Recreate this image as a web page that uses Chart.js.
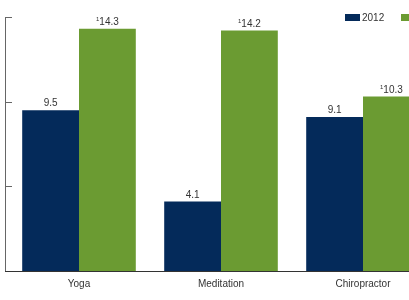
<!DOCTYPE html>
<html>
<head>
<meta charset="utf-8">
<script src="https://cdn.jsdelivr.net/npm/chart.js@4/dist/chart.umd.min.js"></script>
<style>
  html, body { margin: 0; padding: 0; background: #fff; }
  #wrap { width: 409px; height: 300px; overflow: hidden; }
</style>
</head>
<body>
<div id="wrap"><canvas id="chart" width="440" height="300"></canvas></div>
<script>
    // data
    var categories = ['Yoga', 'Meditation', 'Chiropractor'];
    var years = ['2012', '2017'];
    var values2012 = [9.5, 4.1, 9.1];
    var values2017 = [14.3, 14.2, 10.3];
    var sigFlags2017 = ['1', '1', '1'];
    var yTicks = [0, 5, 10, 15];

    var NAVY = '#042a5a';
    var GREEN = '#6b9b32';
    var FONT = '"Liberation Sans", Arial, sans-serif';

    // axes with inward tick marks, bar value labels and a top right legend
    var decorPlugin = {
        id: 'decor',
        afterDatasetsDraw: function(chart) {
            var ctx = chart.ctx;
            var y = chart.scales.y;
            var axisX = 5;
            ctx.save();

            // y axis
            ctx.strokeStyle = '#666';
            ctx.lineWidth = 1;
            ctx.beginPath();
            ctx.moveTo(axisX + 0.5, y.getPixelForValue(15));
            ctx.lineTo(axisX + 0.5, y.getPixelForValue(0));
            yTicks.forEach(function(t) {
                var py = Math.round(y.getPixelForValue(t)) + 0.5;
                ctx.moveTo(axisX, py);
                ctx.lineTo(axisX + 7, py);
            });
            ctx.stroke();

            // x axis
            ctx.strokeStyle = '#333';
            ctx.beginPath();
            var by = Math.round(y.getPixelForValue(0)) + 0.5;
            ctx.moveTo(axisX, by);
            ctx.lineTo(chart.width, by);
            ctx.stroke();

            // value labels
            ctx.fillStyle = '#333';
            ctx.textBaseline = 'alphabetic';
            chart.data.datasets.forEach(function(ds, di) {
                var meta = chart.getDatasetMeta(di);
                meta.data.forEach(function(bar, i) {
                    var txt = ds.data[i].toFixed(1);
                    var flag = ds.flags ? ds.flags[i] : '';
                    ctx.font = '10px ' + FONT;
                    var w = ctx.measureText(txt).width;
                    ctx.font = '6px ' + FONT;
                    var fw = flag ? ctx.measureText(flag).width : 0;
                    var x0 = bar.x - (w + fw) / 2;
                    var baseY = bar.y - 4;
                    if (flag) {
                        ctx.textAlign = 'left';
                        ctx.fillText(flag, x0, baseY - 4);
                    }
                    ctx.font = '10px ' + FONT;
                    ctx.textAlign = 'left';
                    ctx.fillText(txt, x0 + fw, baseY);
                });
            });

            // legend
            var lx = 345, ly = 14;
            chart.data.datasets.forEach(function(ds) {
                ctx.fillStyle = ds.backgroundColor;
                ctx.fillRect(lx, ly, 15, 7);
                ctx.fillStyle = '#333';
                ctx.font = '10px ' + FONT;
                ctx.textAlign = 'left';
                ctx.fillText(ds.label, lx + 17, ly + 7);
                lx += 56;
            });
            ctx.restore();
        }
    };

    var ctx = document.getElementById('chart').getContext('2d');
    new Chart(ctx, {
        type: 'bar',
        data: {
            labels: categories,
            datasets: [{
                label: years[0],
                data: values2012,
                backgroundColor: NAVY,
                borderWidth: 0
            }, {
                label: years[1],
                data: values2017,
                flags: sigFlags2017,
                backgroundColor: GREEN,
                borderWidth: 0
            }]
        },
        options: {
            responsive: false,
            animation: false,
            layout: {
                padding: { left: 8, right: 6, top: 17, bottom: 3 }
            },
            plugins: {
                legend: { display: false },
                tooltip: { enabled: false }
            },
            datasets: {
                bar: { categoryPercentage: 0.8, barPercentage: 1.0 }
            },
            scales: {
                x: {
                    grid: { display: false, drawTicks: false },
                    border: { display: false },
                    ticks: {
                        padding: 7,
                        color: '#333',
                        font: { family: FONT, size: 10 }
                    }
                },
                y: {
                    display: false,
                    min: 0,
                    max: 15
                }
            }
        },
        plugins: [decorPlugin]
    });
</script>
</body>
</html>
